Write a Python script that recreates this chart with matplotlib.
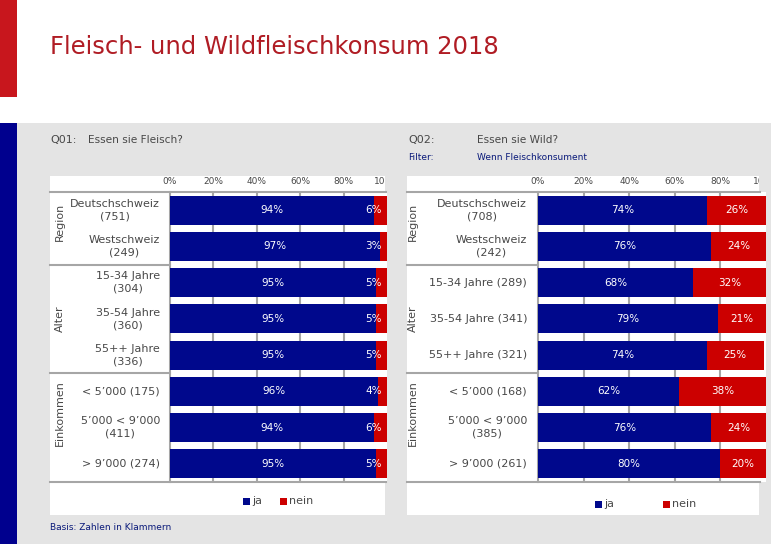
import matplotlib
matplotlib.use("Agg")
import matplotlib.pyplot as plt
from matplotlib.patches import Rectangle
from matplotlib.lines import Line2D
import matplotlib.transforms as mtransforms

# ---------------- data ----------------
groups = ["Region", "Alter", "Einkommen"]
q1_labels = ["Deutschschweiz\n(751)", "Westschweiz\n(249)", "15-34 Jahre\n(304)",
             "35-54 Jahre\n(360)", "55++ Jahre\n(336)", "< 5’000 (175)",
             "5’000 < 9’000\n(411)", "> 9’000 (274)"]
q1_ja = [94, 97, 95, 95, 95, 96, 94, 95]
q1_nein = [6, 3, 5, 5, 5, 4, 6, 5]

q2_labels = ["Deutschschweiz\n(708)", "Westschweiz\n(242)", "15-34 Jahre (289)",
             "35-54 Jahre (341)", "55++ Jahre (321)", "< 5’000 (168)",
             "5’000 < 9’000\n(385)", "> 9’000 (261)"]
q2_ja = [74, 76, 68, 79, 74, 62, 76, 80]
q2_nein = [26, 24, 32, 21, 25, 38, 24, 20]

ticks = [0, 20, 40, 60, 80, 100]
tick_labels = ["0%", "20%", "40%", "60%", "80%", "100%"]
series_names = ["ja", "nein"]

# ---------------- style ----------------
W, H = 771, 544
BLUE = "#00088c"
RED = "#cc0000"
GRAY_BG = "#e4e4e4"
TXT = "#484848"
GRID = "#a6a6a6"
NAVY_TXT = "#0a1a7a"

def fx(x):
    return x / W

def fy(y):
    return 1 - y / H

fig = plt.figure(figsize=(W / 100, H / 100), dpi=100)
fig.patch.set_facecolor("white")

# decorative bars / background
fig.patches.append(Rectangle((0, fy(97)), fx(17), 97 / H, transform=fig.transFigure,
                             facecolor="#c8161d", edgecolor="none", zorder=0))
fig.patches.append(Rectangle((fx(17), 0), 1 - fx(17), fy(123), transform=fig.transFigure,
                             facecolor=GRAY_BG, edgecolor="none", zorder=0))
fig.patches.append(Rectangle((0, 0), fx(17), fy(123), transform=fig.transFigure,
                             facecolor="#00008e", edgecolor="none", zorder=0))

fig.text(fx(50), fy(47), "Fleisch- und Wildfleischkonsum 2018", color="#b01c24",
         fontsize=17.5, ha="left", va="center")

fig.text(fx(50), fy(140), "Q01:", color=TXT, fontsize=8, va="center")
fig.text(fx(88), fy(140), "Essen sie Fleisch?", color=TXT, fontsize=7.6, va="center")
fig.text(fx(408), fy(140), "Q02:", color=TXT, fontsize=8, va="center")
fig.text(fx(477), fy(140), "Essen sie Wild?", color=TXT, fontsize=7.6, va="center")
fig.text(fx(408), fy(157), "Filter:", color=NAVY_TXT, fontsize=6.5, va="center")
fig.text(fx(477), fy(157), "Wenn Fleischkonsument", color=NAVY_TXT, fontsize=6.5, va="center")
fig.text(fx(50), fy(528), "Basis: Zahlen in Klammern", color=NAVY_TXT, fontsize=6.5, va="center")

AX_TOP, AX_BOT = 192, 482
group_label_y = [222, 319, 413]


def panel(box_x0, box_x1, ax_x0, ax_x1, labels, ja, nein, label_x, group_x,
          nein_right, legend_xs):
    box = Rectangle((fx(box_x0), fy(515)), fx(box_x1) - fx(box_x0), fy(176) - fy(515),
                    transform=fig.transFigure, facecolor="white", edgecolor="none", zorder=1)
    fig.patches.append(box)

    ax = fig.add_axes([fx(ax_x0), fy(AX_BOT), fx(ax_x1) - fx(ax_x0),
                       (AX_BOT - AX_TOP) / H])
    ax.set_zorder(2)
    ax.set_facecolor("white")
    n = len(labels)
    ypos = list(range(n))
    ax.barh(ypos, ja, height=0.8, color=BLUE, zorder=3, label=series_names[0])
    ax.barh(ypos, nein, left=ja, height=0.8, color=RED, zorder=3, label=series_names[1])
    ax.set_xlim(0, 100)
    ax.set_ylim(n - 0.5, -0.5)
    ax.set_xticks([20, 40, 60, 80])
    ax.set_xticklabels([])
    ax.set_yticks([])
    ax.tick_params(length=0)
    ax.grid(axis="x", color=GRID, linewidth=1.5, zorder=0)
    for s in ["top", "bottom", "right"]:
        ax.spines[s].set_visible(False)
    ax.spines["left"].set_color(GRID)
    ax.spines["left"].set_linewidth(1.5)

    for i in range(n):
        ax.text(ja[i] / 2, i, f"{ja[i]}%", color="white", fontsize=7.5,
                ha="center", va="center", zorder=4)
        if nein_right:
            ax.text(97.6, i, f"{nein[i]}%", color="white", fontsize=7.5,
                    ha="right", va="center", zorder=4)
        else:
            ax.text(ja[i] + nein[i] / 2, i, f"{nein[i]}%", color="white", fontsize=7.5,
                    ha="center", va="center", zorder=4)

    # tick labels on top, clipped to the white box (as in the reference)
    trans = mtransforms.blended_transform_factory(ax.transData, fig.transFigure)
    for t, tl in zip(ticks, tick_labels):
        txt = fig.text(t, fy(181), tl, transform=trans, color=TXT, fontsize=6.5,
                       ha="center", va="center", zorder=5)
        txt.set_clip_on(True)
        txt.set_clip_path(box)

    # horizontal lines (top, bottom and group separators)
    for yy in (AX_TOP, AX_BOT):
        fig.lines.append(Line2D([fx(box_x0), fx(min(ax_x1, box_x1 + 1))], [fy(yy), fy(yy)],
                                transform=fig.transFigure, color=GRID, linewidth=1.5, zorder=6))
    row_h = (AX_BOT - AX_TOP) / n
    for k in (2, 5):
        yy = AX_TOP + k * row_h
        fig.lines.append(Line2D([fx(box_x0), fx(ax_x0)], [fy(yy), fy(yy)],
                                transform=fig.transFigure, color=GRID, linewidth=1.5, zorder=6))

    # category labels
    for i, lab in enumerate(labels):
        yy = AX_TOP + (i + 0.5) * row_h
        fig.text(fx(label_x), fy(yy), lab, color=TXT, fontsize=8, ha="right",
                 va="center", multialignment="center", linespacing=1.3, zorder=5)
    for g, gy in zip(groups, group_label_y):
        fig.text(fx(group_x), fy(gy), g, color=TXT, fontsize=8, rotation=90,
                 ha="center", va="center", zorder=5)

    # legend
    lx_ja, lx_nein, ly = legend_xs
    for lx, name, col in ((lx_ja, series_names[0], BLUE), (lx_nein, series_names[1], RED)):
        fig.patches.append(Rectangle((fx(lx), fy(ly + 3.5)), 7 / W, 7 / H,
                                     transform=fig.transFigure, facecolor=col,
                                     edgecolor="none", zorder=5))
        fig.text(fx(lx + 9), fy(ly), name, color=TXT, fontsize=8, ha="left",
                 va="center", zorder=5)
    return ax


panel(50, 385, 170, 387, q1_labels, q1_ja, q1_nein, 160, 60, True, (243, 280, 501))
panel(407, 759, 538, 766, q2_labels, q2_ja, q2_nein, 527, 413, False, (595, 663, 504))

fig.savefig("out.png", dpi=100, facecolor=fig.get_facecolor())
